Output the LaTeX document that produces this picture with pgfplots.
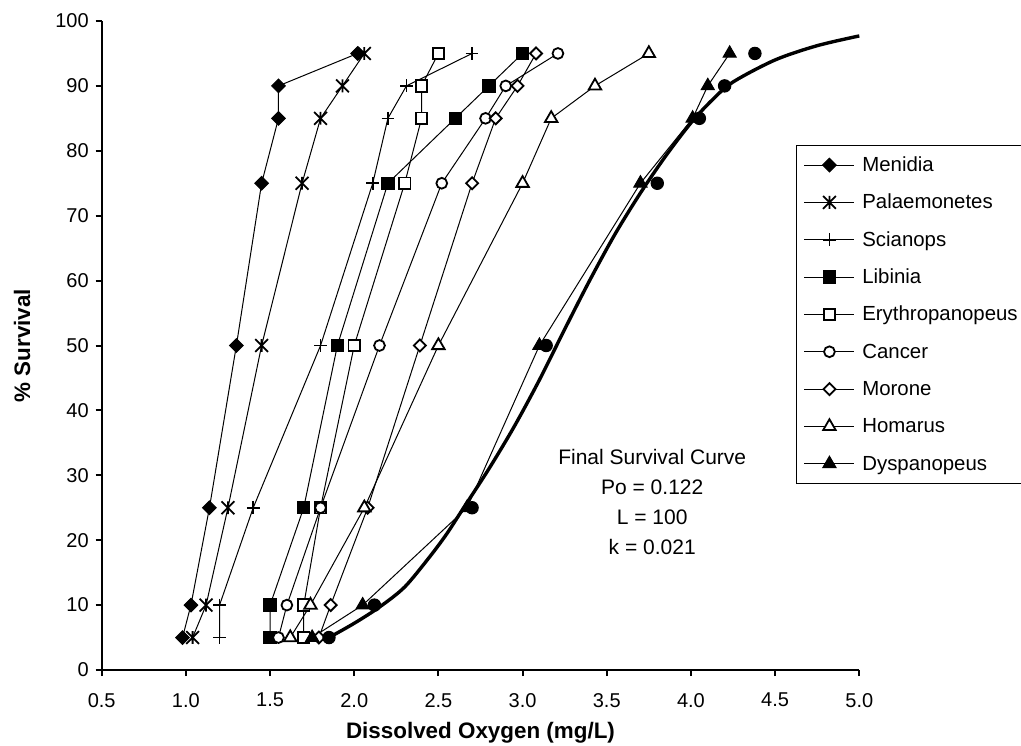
\documentclass[border=0pt]{standalone}
\usepackage{fontspec}
\setmainfont{Liberation Sans}
\usepackage{pgfplots}
\pgfplotsset{compat=1.18}

\pgfdeclareplotmark{xdiam}{%
  \pgfpathmoveto{\pgfqpoint{0pt}{\pgfplotmarksize}}%
  \pgfpathlineto{\pgfqpoint{\pgfplotmarksize}{0pt}}%
  \pgfpathlineto{\pgfqpoint{0pt}{-\pgfplotmarksize}}%
  \pgfpathlineto{\pgfqpoint{-\pgfplotmarksize}{0pt}}%
  \pgfpathclose\pgfusepathqfillstroke}
\pgfdeclareplotmark{xstar}{%
  \pgfpathmoveto{\pgfqpoint{0pt}{\pgfplotmarksize}}%
  \pgfpathlineto{\pgfqpoint{0pt}{-\pgfplotmarksize}}%
  \pgfpathmoveto{\pgfqpoint{-\pgfplotmarksize}{\pgfplotmarksize}}%
  \pgfpathlineto{\pgfqpoint{\pgfplotmarksize}{-\pgfplotmarksize}}%
  \pgfpathmoveto{\pgfqpoint{-\pgfplotmarksize}{-\pgfplotmarksize}}%
  \pgfpathlineto{\pgfqpoint{\pgfplotmarksize}{\pgfplotmarksize}}%
  \pgfusepathqstroke}

\begin{document}
\begin{tikzpicture}
\begin{axis}[
  at={(0,0)}, anchor=south west,
  scale only axis, width=378.8pt, height=324.5pt,
  xmin=0.5, xmax=5, ymin=0, ymax=100,
  axis x line*=bottom, axis y line*=left,
  axis line style={line width=1pt},
  xtick={0.5,1,1.5,2,2.5,3,3.5,4,4.5,5},
  ytick={0,10,...,100},
  tick align=outside, major tick length=3pt,
  tick style={line width=1pt, black},
  /pgf/number format/assume math mode=true,
  xticklabel style={/pgf/number format/.cd, fixed, fixed zerofill, precision=1, /tikz/.cd, yshift=-5pt},
  ticklabel style={font=\fontsize{10}{11}\selectfont},
  xlabel={Dissolved Oxygen (mg/L)}, ylabel={\% Survival},
  label style={font=\fontsize{11.2}{13}\selectfont\bfseries},
  xlabel style={at={(axis description cs:0.5,-0.0971)}, anchor=center},
  ylabel style={at={(axis description cs:-0.1051,0.5)}, anchor=center},
  clip=false,
  legend cell align=left,
  legend image code/.code={\draw[mark repeat=2,mark phase=2,#1] plot coordinates {(0pt,0pt)(12.5pt,0pt)(25pt,0pt)};},
  legend style={at={(0.9165,0.809)}, anchor=north west, draw=black, line width=0.5pt,
    fill=white, inner xsep=3.7pt, inner ysep=5pt,
    font=\fontsize{10.2}{12}\selectfont, row sep=9.07pt, column sep=3.7pt,
    nodes={inner sep=0pt, text height=8pt, text depth=1.6pt}},
  every axis plot/.append style={black, line width=0.5pt},
]
% Menidia
\addplot[mark=xdiam, mark size=3.4pt, mark options={fill=black, line width=0.5pt}] coordinates {
(0.98,5) (1.03,10) (1.14,25) (1.30,50) (1.45,75) (1.55,85) (1.55,90) (2.02,95)};
\addlegendentry{Menidia}
% Palaemonetes
\addplot[mark=xstar, mark size=3.2pt, mark options={line width=0.9pt}] coordinates {
(1.04,5) (1.12,10) (1.25,25) (1.45,50) (1.69,75) (1.80,85) (1.93,90) (2.06,95)};
\addlegendentry{Palaemonetes}
% Scianops
\addplot[mark=+, mark size=3.2pt, mark options={line width=0.8pt}] coordinates {
(1.20,5) (1.20,10) (1.40,25) (1.80,50) (2.11,75) (2.20,85) (2.31,90) (2.70,95)};
\addlegendentry{Scianops}
% Libinia
\addplot[mark=square*, mark size=3.1pt, mark options={fill=black, line width=0.5pt}] coordinates {
(1.50,5) (1.50,10) (1.70,25) (1.90,50) (2.20,75) (2.60,85) (2.80,90) (3.00,95)};
\addlegendentry{Libinia}
% Erythropanopeus
\addplot[mark=square*, mark size=2.9pt, mark options={fill=white, line width=0.9pt}] coordinates {
(1.70,5) (1.70,10) (1.80,25) (2.00,50) (2.30,75) (2.40,85) (2.40,90) (2.50,95)};
\addlegendentry{Erythropanopeus}
% Cancer
\addplot[mark=*, mark size=2.7pt, mark options={fill=white, line width=0.9pt}] coordinates {
(1.55,5) (1.60,10) (1.80,25) (2.15,50) (2.52,75) (2.78,85) (2.90,90) (3.21,95)};
\addlegendentry{Cancer}
% Morone
\addplot[mark=xdiam, mark size=3.0pt, mark options={fill=white, line width=0.9pt}] coordinates {
(1.79,5) (1.86,10) (2.08,25) (2.39,50) (2.70,75) (2.84,85) (2.97,90) (3.08,95)};
\addlegendentry{Morone}
% Homarus
\addplot[mark=triangle*, mark size=3.6pt, mark options={fill=white, line width=0.9pt}] coordinates {
(1.62,5) (1.74,10) (2.06,25) (2.50,50) (3.00,75) (3.17,85) (3.43,90) (3.75,95)};
\addlegendentry{Homarus}
% Dyspanopeus
\addplot[mark=triangle*, mark size=3.8pt, mark options={fill=black, line width=0.5pt}] coordinates {
(1.75,5) (2.05,10) (2.67,25) (3.10,50) (3.70,75) (4.01,85) (4.10,90) (4.23,95)};
\addlegendentry{Dyspanopeus}
% Final survival points
\addplot[forget plot, only marks, mark=*, mark size=3.1pt, mark options={fill=black}] coordinates {
(1.85,5) (2.12,10) (2.70,25) (3.14,50) (3.80,75) (4.05,85) (4.20,90) (4.38,95)};
% Final survival curve
\addplot[forget plot, no marks, line width=1.7pt, smooth] coordinates {
(1.85,5.0) (2.0,7.2) (2.15,9.7) (2.3,12.8) (2.45,17.5) (2.55,21.0) (2.65,25.0) (2.8,31.0)
(2.95,37.5) (3.1,44.7) (3.25,52.5) (3.4,60.1) (3.55,67.2) (3.7,73.5) (3.85,79.2)
(4.0,84.3) (4.125,87.8) (4.25,90.6) (4.5,94.0) (4.75,96.2) (5.0,97.7)};
\node[align=center, font=\fontsize{10.5}{15}\selectfont] at (axis cs:3.77,25.9)
  {Final Survival Curve\\Po = 0.122\\L = 100\\k = 0.021};
\end{axis}
\pgfresetboundingbox
\path[use as bounding box] (-50.85pt,-37.5pt) rectangle (459.65pt,335pt);
\end{tikzpicture}
\end{document}
